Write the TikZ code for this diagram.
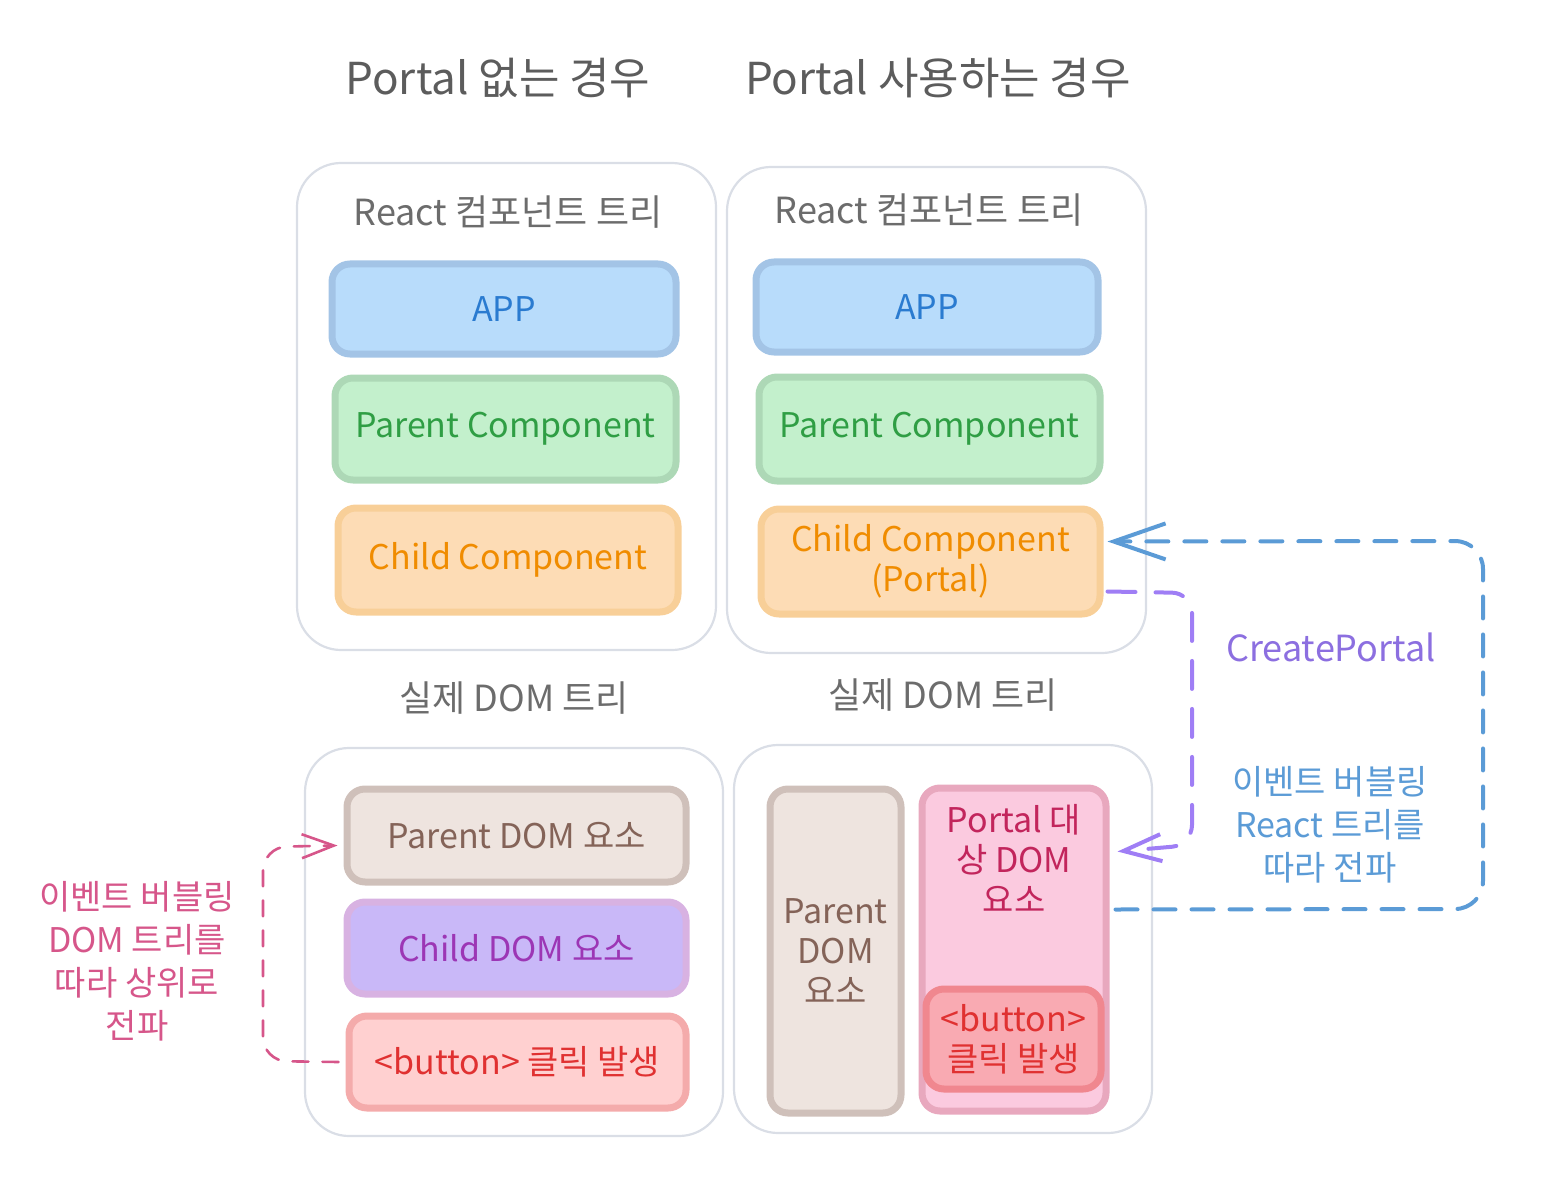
\documentclass[tikz,border=0pt]{standalone}
\usepackage{fontspec}
\setmainfont{Noto Sans CJK KR}
\usetikzlibrary{arrows.meta,positioning}

\definecolor{titlegray}{HTML}{5C5C5C}
\definecolor{framegray}{HTML}{DADEE6}
\definecolor{appfill}{HTML}{B8DCFB}
\definecolor{appline}{HTML}{A3C4E6}
\definecolor{apptext}{HTML}{2A7BD0}
\definecolor{parfill}{HTML}{C3F0CC}
\definecolor{parline}{HTML}{ADD8B6}
\definecolor{partext}{HTML}{2F9E44}
\definecolor{chfill}{HTML}{FDDCB5}
\definecolor{chline}{HTML}{F8CF98}
\definecolor{chtext}{HTML}{F08C00}
\definecolor{domfill}{HTML}{EEE4DF}
\definecolor{domline}{HTML}{CFC0BA}
\definecolor{domtext}{HTML}{846358}
\definecolor{vfill}{HTML}{C9B8F8}
\definecolor{vline}{HTML}{D8B2E2}
\definecolor{vtext}{HTML}{9C36B5}
\definecolor{btnfill}{HTML}{FFD0D0}
\definecolor{btnline}{HTML}{F4ABAB}
\definecolor{btntext}{HTML}{E03131}
\definecolor{tgtfill}{HTML}{FBCADF}
\definecolor{tgtline}{HTML}{E8A8BE}
\definecolor{tgttext}{HTML}{C2255C}
\definecolor{ibtnfill}{HTML}{F9AAB2}
\definecolor{ibtnline}{HTML}{F0878F}
\definecolor{bubblue}{HTML}{5B9BD6}
\definecolor{portpurple}{HTML}{9F7EF5}
\definecolor{portlabel}{HTML}{8C6FE0}
\definecolor{dompink}{HTML}{D6568A}

\begin{document}
\begin{tikzpicture}[
    x=0.5pt, y=-0.5pt,
    frame/.style={draw=framegray, line width=1.1pt, rounded corners=22pt},
    box/.style={draw, line width=3.5pt, rounded corners=9pt, align=center,
    inner sep=0pt, font=\fontsize{17}{20}\selectfont},
    title/.style={text=titlegray, font=\fontsize{22}{26}\selectfont},
    treelbl/.style={text=titlegray!90, font=\fontsize{18}{22}\selectfont},
    sidelbl/.style={align=center, font=\fontsize{17}{21.5}\selectfont},
    bluearr/.style={draw=bubblue, line width=2pt, dash pattern=on 11pt off 8pt,
    line cap=round, rounded corners=14pt, -{Straight Barb[length=26pt, width=18pt]}},
    purplearr/.style={draw=portpurple, line width=2pt, dash pattern=on 14pt off 10pt,
    line cap=round, rounded corners=10pt, -{Straight Barb[length=19pt, width=13.5pt]}},
    pinkarr/.style={draw=dompink, line width=1.3pt, dash pattern=on 8pt off 7pt,
    line cap=round, rounded corners=12pt, -{Straight Barb[length=16pt, width=12pt]}}
]
\useasboundingbox (0,0) rectangle (1558,1182);

% titles
\node[title] (t1) at (498,78) {Portal 없는 경우};
\node[title] (t2) at (938,78) {Portal 사용하는 경우};

% frames
\node[frame, minimum width=209.5pt, minimum height=243.5pt] (ltop) at (506.5,406.5) {};
\node[frame, minimum width=209.5pt, minimum height=243pt] (rtop) at (936.5,410) {};
\node[frame, minimum width=209pt, minimum height=194pt] (lbot) at (514,942) {};
\node[frame, minimum width=209pt, minimum height=194pt] (rbot) at (943,939) {};

\node[treelbl] (ltree) at (508,212) {React 컴포넌트 트리};
\node[treelbl] (rtree) at (929,210) {React 컴포넌트 트리};
\node[treelbl] (ldom) at (514,698) {실제 DOM 트리};
\node[treelbl] (rdom) at (943,695) {실제 DOM 트리};

% react tree, without portal
\node[box, draw=appline, fill=appfill, text=apptext, minimum width=172pt, minimum height=45pt] (lapp) at (504,309) {APP};
\node[box, draw=parline, fill=parfill, text=partext, minimum width=170.5pt, minimum height=51pt] (lpar) at (505.5,429) {Parent Component};
\node[box, draw=chline, fill=chfill, text=chtext, minimum width=170pt, minimum height=52pt] (lchild) at (508,560) {Child Component};

% react tree, with portal
\node[box, draw=appline, fill=appfill, text=apptext, minimum width=171pt, minimum height=45pt] (rapp) at (927,307) {APP};
\node[box, draw=parline, fill=parfill, text=partext, minimum width=170.5pt, minimum height=52pt] (rpar) at (929.5,429) {Parent Component};
\node[box, draw=chline, fill=chfill, text=chtext, minimum width=169.5pt, minimum height=52.5pt] (rchild) at (930.5,561.5) {Child Component\\(Portal)};

% dom tree, without portal
\node[box, draw=domline, fill=domfill, text=domtext, minimum width=169.5pt, minimum height=46.5pt] (ldpar) at (516.5,835.5) {Parent DOM 요소};
\node[box, draw=vline, fill=vfill, text=vtext, minimum width=169.5pt, minimum height=46pt] (ldchild) at (516.5,948) {Child DOM 요소};
\node[box, draw=btnline, fill=btnfill, text=btntext, minimum width=168.5pt, minimum height=46pt] (ldbtn) at (517.5,1062) {<button> 클릭 발생};

% dom tree, with portal
\node[box, draw=domline, fill=domfill, text=domtext, minimum width=65.5pt, minimum height=162pt] (rdpar) at (835.5,951) {Parent\\DOM\\요소};
\node[box, draw=tgtline, fill=tgtfill, minimum width=92pt, minimum height=161.5pt] (rdtgt) at (1014,949.5) {};
\node[box, draw=none, fill=none, text=tgttext] (rdtgtlbl) at (1014,858) {Portal 대\\상 DOM\\요소};
\node[box, draw=ibtnline, fill=ibtnfill, text=btntext, minimum width=87.5pt, minimum height=50pt] (rdbtn) at (1013.5,1039) {<button>\\클릭 발생};

% side labels
\node[sidelbl, text=dompink] (lbub) at (137,961) {이벤트 버블링\\DOM 트리를\\따라 상위로\\전파};
\node[sidelbl, text=portlabel, font=\fontsize{18}{22}\selectfont] (cplbl) at (1331,647) {CreatePortal};
\node[sidelbl, text=bubblue] (rbub) at (1330,825) {이벤트 버블링\\React 트리를\\따라 전파};

% connectors
\coordinate (bturn1) at (1483,909);
\coordinate (bturn2) at (1483,541);
\draw[bluearr] ([xshift=3pt,yshift=20pt]rdtgt.east) -- (bturn1) -- (bturn2) -- ([xshift=2pt,yshift=10pt]rchild.east);

\coordinate (pturn1) at (1192,593);
\coordinate (pturn2) at (1192,845);
\draw[purplearr] ([xshift=2pt,yshift=-15pt]rchild.east) -- (pturn1) -- (pturn2) -- ([xshift=4pt,yshift=49pt]rdtgt.east);

\coordinate (kturn1) at (263,1061);
\coordinate (kturn2) at (263,847);
\draw[pinkarr] ([xshift=-3.5pt]ldbtn.west) -- (kturn1) -- (kturn2) -- ([xshift=-3pt,yshift=-5pt]ldpar.west);
\end{tikzpicture}
\end{document}
